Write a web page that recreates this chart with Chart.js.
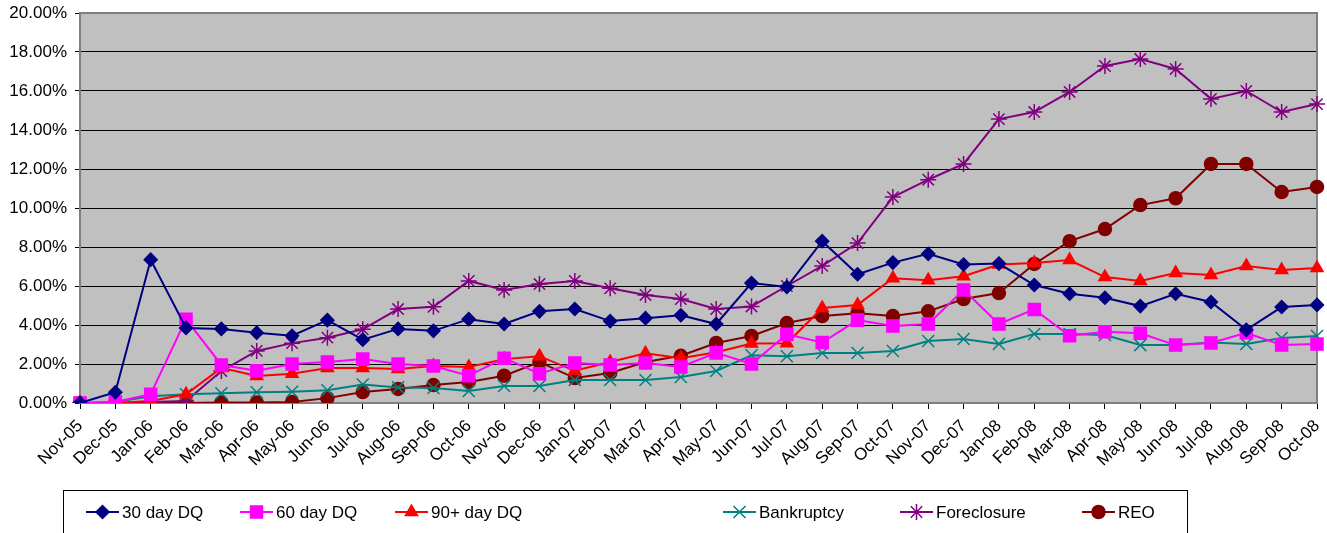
<!DOCTYPE html>
<html>
<head>
<meta charset="utf-8">
<script src="https://cdn.jsdelivr.net/npm/chart.js@4.4.1/dist/chart.umd.min.js"></script>
<style>
  html, body { margin: 0; padding: 0; background: #fff; }
  #wrap { width: 1327px; height: 533px; position: relative; }
</style>
</head>
<body>
<div id="wrap"><canvas id="dqChart" width="1327" height="533"></canvas></div>
<script>
const months = ['Nov-05','Dec-05','Jan-06','Feb-06','Mar-06','Apr-06','May-06','Jun-06','Jul-06','Aug-06','Sep-06','Oct-06',
  'Nov-06','Dec-06','Jan-07','Feb-07','Mar-07','Apr-07','May-07','Jun-07','Jul-07','Aug-07','Sep-07','Oct-07',
  'Nov-07','Dec-07','Jan-08','Feb-08','Mar-08','Apr-08','May-08','Jun-08','Jul-08','Aug-08','Sep-08','Oct-08'];

// percent values
const dq30 = [0, 0.55, 7.35, 3.85, 3.8, 3.6, 3.45, 4.25, 3.25, 3.8, 3.7, 4.3, 4.05, 4.7, 4.82, 4.2, 4.35, 4.5,
  4.05, 6.15, 5.95, 8.3, 6.6, 7.2, 7.65, 7.1, 7.15, 6.05, 5.6, 5.4, 4.97, 5.6, 5.18, 3.75, 4.92, 5.03];
const dq60 = [0, 0.05, 0.45, 4.3, 1.95, 1.65, 2.0, 2.1, 2.25, 2.0, 1.9, 1.4, 2.3, 1.5, 2.05, 1.95, 2.05, 1.85,
  2.57, 2.0, 3.52, 3.1, 4.25, 3.95, 4.05, 5.8, 4.05, 4.8, 3.45, 3.65, 3.58, 2.97, 3.08, 3.6, 2.97, 3.02];
const dq90 = [0, 0, 0.1, 0.45, 1.8, 1.38, 1.5, 1.8, 1.8, 1.75, 1.9, 1.85, 2.25, 2.4, 1.65, 2.1, 2.55, 2.3,
  2.6, 3.05, 3.07, 4.87, 5.03, 6.4, 6.3, 6.5, 7.1, 7.18, 7.33, 6.46, 6.26, 6.67, 6.56, 7.03, 6.82, 6.92];
const bankruptcy = [0, 0.05, 0.35, 0.45, 0.5, 0.55, 0.58, 0.65, 0.95, 0.8, 0.77, 0.62, 0.87, 0.87, 1.18, 1.18, 1.18, 1.33,
  1.64, 2.45, 2.4, 2.56, 2.56, 2.67, 3.18, 3.28, 3.03, 3.54, 3.54, 3.49, 2.97, 2.97, 3.1, 3.03, 3.33, 3.44];
const foreclosure = [0, 0, 0.05, 0.1, 1.64, 2.67, 3.07, 3.35, 3.78, 4.82, 4.93, 6.26, 5.8, 6.1, 6.26, 5.88, 5.54, 5.33,
  4.82, 4.95, 6.0, 7.03, 8.2, 10.56, 11.45, 12.26, 14.56, 14.92, 15.95, 17.28, 17.64, 17.13, 15.59, 16.0, 14.92, 15.33];
const reo = [0, 0, 0, 0, 0.02, 0.02, 0.05, 0.25, 0.56, 0.72, 0.92, 1.08, 1.4, 2.1, 1.28, 1.54, 2.1, 2.42,
  3.08, 3.44, 4.1, 4.46, 4.6, 4.46, 4.7, 5.33, 5.64, 7.13, 8.3, 8.92, 10.15, 10.5, 12.26, 12.26, 10.82, 11.08];

const yMin = 0, yMax = 20, yStep = 2;

function series(label, data, color, style, radius) {
    return {
        label: label,
        data: data,
        borderColor: color,
        backgroundColor: color,
        borderWidth: 2,
        pointStyle: style,
        pointRadius: radius,
        pointBorderWidth: 1.5,
        pointBackgroundColor: color,
        pointBorderColor: color,
        tension: 0
    };
}

// grey plot area + border
const plotArea = {
    id: 'plotArea',
    beforeDraw(chart) {
        const a = chart.chartArea, ctx = chart.ctx;
        ctx.save();
        ctx.fillStyle = '#C0C0C0';
        ctx.fillRect(a.left, a.top, a.right - a.left, a.bottom - a.top);
        ctx.restore();
    },
    beforeDatasetsDraw(chart) {
        const a = chart.chartArea, ctx = chart.ctx;
        ctx.save();
        ctx.strokeStyle = '#808080';
        ctx.lineWidth = 2;
        ctx.strokeRect(a.left, a.top, a.right - a.left, a.bottom - a.top);
        ctx.restore();
    }
};

// Excel style legend box with line + marker samples
const boxLegend = {
    id: 'boxLegend',
    afterDraw(chart, args, opts) {
        const ctx = chart.ctx;
        ctx.save();
        ctx.strokeStyle = '#000';
        ctx.lineWidth = 1;
        ctx.strokeRect(opts.left + 0.5, opts.top + 0.5, opts.right - opts.left, 60);
        ctx.font = '17px "Liberation Sans", Arial, sans-serif';
        ctx.textBaseline = 'middle';
        chart.data.datasets.forEach((ds, i) => {
            const x = opts.xs[i], y = opts.y;
            ctx.strokeStyle = ds.borderColor;
            ctx.lineWidth = 2;
            ctx.beginPath();
            ctx.moveTo(x, y);
            ctx.lineTo(x + 33, y);
            ctx.stroke();
            ctx.fillStyle = ds.borderColor;
            ctx.lineWidth = 1.5;
            Chart.helpers.drawPoint(ctx, {pointStyle: ds.pointStyle, radius: ds.pointRadius, rotation: 0, borderWidth: 1.5}, x + 16.5, y);
            ctx.fillStyle = '#000';
            ctx.fillText(ds.label, x + 36, y + 1);
        });
        ctx.restore();
    }
};

const ctx = document.getElementById('dqChart').getContext('2d');
window.myChart = new Chart(ctx, {
    type: 'line',
    data: {
        labels: months,
        datasets: [
            series('30 day DQ', dq30, '#000080', 'rectRot', 6.5),
            series('60 day DQ', dq60, '#FF00FF', 'rect', 8.5),
            series('90+ day DQ', dq90, '#FF0000', 'triangle', 7),
            series('Bankruptcy', bankruptcy, '#008080', 'crossRot', 8.5),
            series('Foreclosure', foreclosure, '#800080', 'star', 8),
            series('REO', reo, '#800000', 'circle', 6.5)
        ]
    },
    options: {
        responsive: false,
        animation: false,
        layout: { padding: { left: 0, right: 10, top: 13, bottom: 0 } },
        plugins: {
            legend: { display: false },
            tooltip: { enabled: false },
            boxLegend: { left: 63, right: 1187, top: 490, y: 512, xs: [86, 240, 395, 723, 900, 1082] }
        },
        scales: {
            x: {
                offset: false,
                grid: { display: true, drawOnChartArea: false, drawTicks: true, tickLength: 6, color: '#000' },
                border: { display: true, color: '#808080', width: 2 },
                ticks: {
                    autoSkip: false, minRotation: 45, maxRotation: 45, color: '#000', padding: 7,
                    font: { family: '"Liberation Sans", Arial, sans-serif', size: 17 }
                },
                afterFit(scale) {
                    scale.height = 130;
                    scale.paddingRight = 0;
                    scale.paddingLeft = 0;
                }
            },
            y: {
                min: yMin, max: yMax,
                grid: { color: '#000', lineWidth: 1, drawTicks: true, tickLength: 5 },
                border: { display: true, color: '#808080', width: 2 },
                ticks: {
                    stepSize: yStep, color: '#000', padding: 8,
                    font: { family: '"Liberation Sans", Arial, sans-serif', size: 17 },
                    callback: (v) => v.toFixed(2) + '%'
                },
                afterFit(scale) {
                    scale.width = 80;
                    scale.paddingTop = 0;
                    scale.paddingBottom = 0;
                }
            }
        }
    },
    plugins: [plotArea, boxLegend]
});
</script>
</body>
</html>
